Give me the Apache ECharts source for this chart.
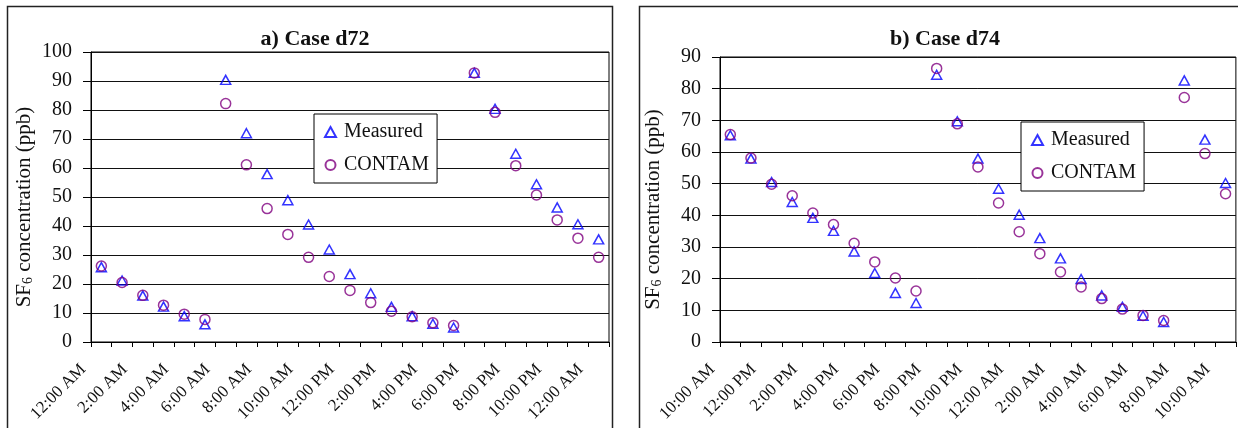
<!DOCTYPE html>
<html>
<head>
<meta charset="utf-8">
<script src="https://cdn.jsdelivr.net/npm/echarts@6/dist/echarts.min.js"></script>
<style>
  html, body { margin: 0; padding: 0; background: #fff; }
  #chart { width: 1238px; height: 428px; }
</style>
</head>
<body>
<div id="chart"></div>
<script>
// ---- Data ----
const titleA = 'a) Case d72';
const titleB = 'b) Case d74';
const seriesNames = ['Measured', 'CONTAM'];
const tickLabelsA = ['12:00 AM','2:00 AM','4:00 AM','6:00 AM','8:00 AM','10:00 AM','12:00 PM','2:00 PM','4:00 PM','6:00 PM','8:00 PM','10:00 PM','12:00 AM'];
const tickLabelsB = ['10:00 AM','12:00 PM','2:00 PM','4:00 PM','6:00 PM','8:00 PM','10:00 PM','12:00 AM','2:00 AM','4:00 AM','6:00 AM','8:00 AM','10:00 AM'];
const measuredA = [25.8, 21.2, 16.0, 12.2, 8.9, 6.1, 90.4, 72.0, 57.9, 48.9, 40.5, 31.9, 23.4, 16.8, 12.1, 8.9, 6.3, 5.0, 92.8, 80.4, 64.9, 54.4, 46.4, 40.6, 35.4];
const contamA   = [26.2, 20.5, 16.1, 12.7, 9.6, 7.8, 82.2, 61.1, 46.0, 37.1, 29.2, 22.6, 17.8, 13.6, 10.6, 8.7, 6.6, 5.7, 92.8, 79.2, 60.8, 50.7, 42.1, 35.8, 29.2];
const measuredB = [65.3, 57.9, 50.5, 44.2, 39.2, 35.1, 28.6, 21.8, 15.5, 12.3, 84.4, 69.7, 57.9, 48.4, 40.2, 32.8, 26.4, 19.9, 14.7, 11.1, 8.3, 6.3, 82.6, 63.9, 50.2];
const contamB   = [65.5, 58.1, 49.8, 46.2, 40.7, 37.1, 31.2, 25.3, 20.2, 16.1, 86.4, 68.9, 55.3, 43.9, 34.8, 27.9, 22.1, 17.4, 13.7, 10.4, 8.4, 6.8, 77.2, 59.5, 46.8];
const yMaxA = 100;
const yMaxB = 90;

// ---- Chart ----
const FONT = '"Liberation Serif", "Times New Roman", serif';
const chart = echarts.init(document.getElementById('chart'), null, { renderer: 'canvas' });

function toPoints(arr) { return arr.map((v, i) => [i + 0.5, v]); }

function xAxisFor(gridIndex, labels, count) {
  return {
    type: 'value', gridIndex: gridIndex, min: 0, max: count, interval: 1,
    axisLine: { show: true, lineStyle: { color: '#000', width: 1 } },
    axisTick: { show: true, length: 5, lineStyle: { color: '#000' } },
    splitLine: { show: false },
    axisLabel: {
      rotate: 45, margin: 17, padding: [0, 11, 0, 0], fontFamily: FONT, fontSize: 17, color: '#111',
      formatter: v => (Math.round(v) % 2 === 0 ? (labels[Math.round(v) / 2] || '') : '')
    }
  };
}

function yAxisFor(gridIndex, max) {
  return {
    type: 'value', gridIndex: gridIndex, min: 0, max: max, interval: 10,
    name: '{a|SF}{b|6}{a| concentration (ppb)}',
    nameLocation: 'middle', nameRotate: 90, nameGap: 56,
    nameTextStyle: {
      padding: [0, 20, 0, 0],
      rich: {
        a: { fontFamily: FONT, fontSize: 21, color: '#111', lineHeight: 24, verticalAlign: 'bottom' },
        b: { fontFamily: FONT, fontSize: 14, color: '#111', lineHeight: 24, verticalAlign: 'bottom' }
      }
    },
    axisLine: { show: true, lineStyle: { color: '#000', width: 1 } },
    axisTick: { show: true, length: 8, lineStyle: { color: '#000' } },
    splitLine: { show: true, lineStyle: { color: '#111', width: 1 } },
    axisLabel: { margin: 19, fontFamily: FONT, fontSize: 20, color: '#111' }
  };
}

function seriesFor(idx, meas, cont) {
  return [
    {
      name: seriesNames[0], type: 'scatter', xAxisIndex: idx, yAxisIndex: idx,
      symbol: 'triangle', symbolSize: [10, 9],
      itemStyle: { color: 'rgba(255,255,255,0)', borderColor: '#0000ff', borderWidth: 1.5 },
      data: toPoints(meas), z: 2
    },
    {
      name: seriesNames[1], type: 'scatter', xAxisIndex: idx, yAxisIndex: idx,
      symbol: 'circle', symbolSize: 10,
      itemStyle: { color: 'rgba(255,255,255,0)', borderColor: '#800080', borderWidth: 1.5 },
      data: toPoints(cont), z: 3
    }
  ];
}

function legendFor(idx, left, top) {
  return {
    data: seriesNames,
    orient: 'vertical', left: left, top: top,
    backgroundColor: '#fff', borderColor: '#000', borderWidth: 1,
    padding: [8, 8, 8, 10], itemGap: 13,
    itemWidth: 11, itemHeight: 10,
    textStyle: { fontFamily: FONT, fontSize: 20, color: '#111', lineHeight: 20, padding: [0, 0, 0, 3] },
    selectedMode: false
  };
}

const option = {
  animation: false,
  backgroundColor: '#fff',
  title: [
    { text: titleA, left: 310, top: 23, textAlign: 'center',
      textStyle: { fontFamily: FONT, fontSize: 22, fontWeight: 'bold', color: '#111' } },
    { text: titleB, left: 940, top: 23, textAlign: 'center',
      textStyle: { fontFamily: FONT, fontSize: 22, fontWeight: 'bold', color: '#111' } }
  ],
  graphic: [
    { type: 'rect', shape: { x: 7.5, y: 6.5, width: 605, height: 500 },
      style: { fill: 'none', stroke: '#222', lineWidth: 1.5 }, z: 100 },
    { type: 'rect', shape: { x: 639.5, y: 6.5, width: 700, height: 500 },
      style: { fill: 'none', stroke: '#222', lineWidth: 1.5 }, z: 100 }
  ],
  grid: [
    { left: 91, top: 52, width: 518, height: 290, show: true, borderColor: '#000', borderWidth: 1, backgroundColor: 'transparent' },
    { left: 720, top: 57, width: 517, height: 285, show: true, borderColor: '#000', borderWidth: 1, backgroundColor: 'transparent' }
  ],
  xAxis: [ xAxisFor(0, tickLabelsA, measuredA.length), xAxisFor(1, tickLabelsB, measuredB.length) ],
  yAxis: [ yAxisFor(0, yMaxA), yAxisFor(1, yMaxB) ],
  legend: [ legendFor(0, 314, 114), legendFor(1, 1021, 122) ],
  series: [].concat(seriesFor(0, measuredA, contamA), seriesFor(1, measuredB, contamB))
};
chart.setOption(option);
</script>
</body>
</html>
